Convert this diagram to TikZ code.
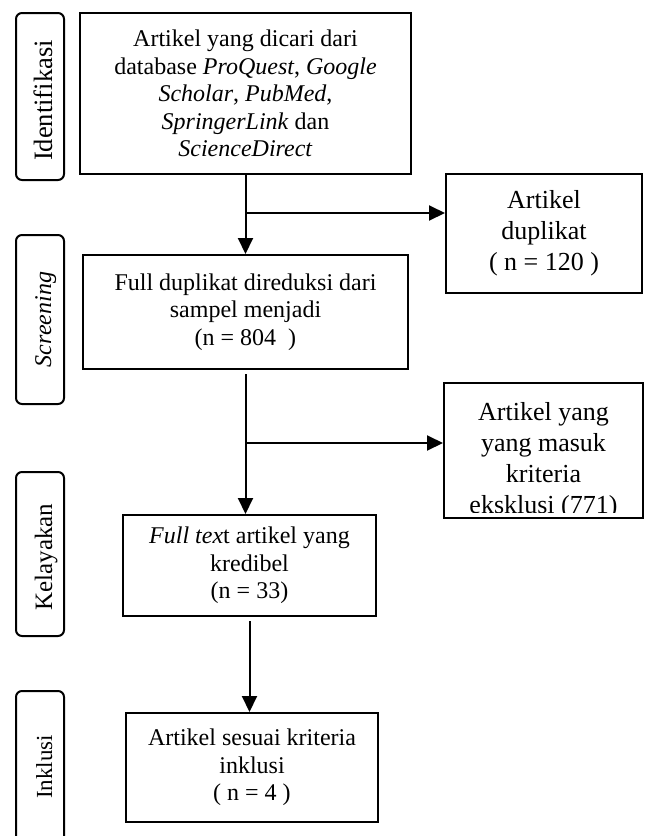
\documentclass[tikz,border=0pt]{standalone}
\usepackage{fontspec}
\setmainfont{Liberation Serif}
\usetikzlibrary{arrows.meta, calc}
\usetikzlibrary{positioning}

\begin{document}
\begin{tikzpicture}[x=1pt, y=-1pt, line width=2pt,
    box/.style={draw, rectangle, inner sep=0pt, align=center, font=\fontsize{24}{27.5}\selectfont},
    outbox/.style={draw, rectangle, inner sep=0pt, align=center, font=\fontsize{26}{31}\selectfont},
    sidebox/.style={draw, rectangle, rounded corners=6pt, inner sep=0pt, minimum width=48pt},
    phaselbl/.style={rotate=90, anchor=base, inner sep=0pt, font=\fontsize{#1}{#1}\selectfont},
    arr/.style={-{Triangle[width=15pt, length=16pt]}}]
    \clip (0,0) rectangle (646,836);
    % phases on the left
    \node[sidebox, minimum height=167pt] at (40,96.5) (idBox) {};
    \node[sidebox, minimum height=169pt] at (40,319.5) (scrBox) {};
    \node[sidebox, minimum height=164pt] at (40,554) (kelBox) {};
    \node[sidebox, minimum height=152pt] at (40,767) (inkBox) {};
    \node[phaselbl=26.5] at ($(idBox.center)+(12,4)$) (idLbl) {Identifikasi};
    \node[phaselbl=24] at ($(scrBox.center)+(11,0)$) (scrLbl) {\textit{Screening}};
    \node[phaselbl=25] at ($(kelBox.center)+(12,3)$) (kelLbl) {Kelayakan};
    \node[phaselbl=23] at ($(inkBox.center)+(12,0)$) (inkLbl) {Inklusi};
    % main flow
    \node[box, minimum width=331pt, minimum height=161pt] at (245.5,93.5) (search)
        {Artikel yang dicari dari\\database \textit{ProQuest}, \textit{Google}\\\textit{Scholar}, \textit{PubMed},\\\textit{SpringerLink} dan\\\textit{ScienceDirect}};
    \node[box, minimum width=325pt, minimum height=114pt] at (245.5,312) (screen)
        {Full duplikat direduksi dari\\sampel menjadi\\(n = 804\ \ )};
    \node[box, minimum width=253pt, minimum height=101pt] at (249.5,565.5) (elig)
        {\textit{Full tex}t artikel yang\\kredibel\\(n = 33)};
    \node[box, minimum width=252pt, minimum height=109pt] at (252,767.5) (incl)
        {Artikel sesuai kriteria\\inklusi\\( n = 4 )};
    % removed
    \node[outbox, minimum width=196pt, minimum height=119pt] at (544,233.5) (dup)
        {Artikel\\duplikat\\( n = 120 )};
    \node[outbox, minimum width=199pt, minimum height=135pt] at (543.5,450.5) (excl) {};
    \begin{scope}
        \clip (excl.north west) rectangle ($(excl.south east)+(0,-7)$);
        \node[outbox, draw=none] at (543.5,460.5) (exclTxt)
            {Artikel yang\\yang masuk\\kriteria\\eksklusi (771)};
    \end{scope}
    % arrows
    \coordinate (j1) at (245.5,213);
    \coordinate (j2) at (245.5,443);
    \draw[arr] (search.south) -- (screen.north);
    \draw[arr] (j1) -- (j1 -| dup.west);
    \draw[arr, shorten <=4pt] (screen.south) -- (screen.south |- elig.north);
    \draw[arr] (j2) -- (j2 -| excl.west);
    \draw[arr, shorten <=4pt] (elig.south) -- (elig.south |- incl.north);
\end{tikzpicture}
\end{document}
